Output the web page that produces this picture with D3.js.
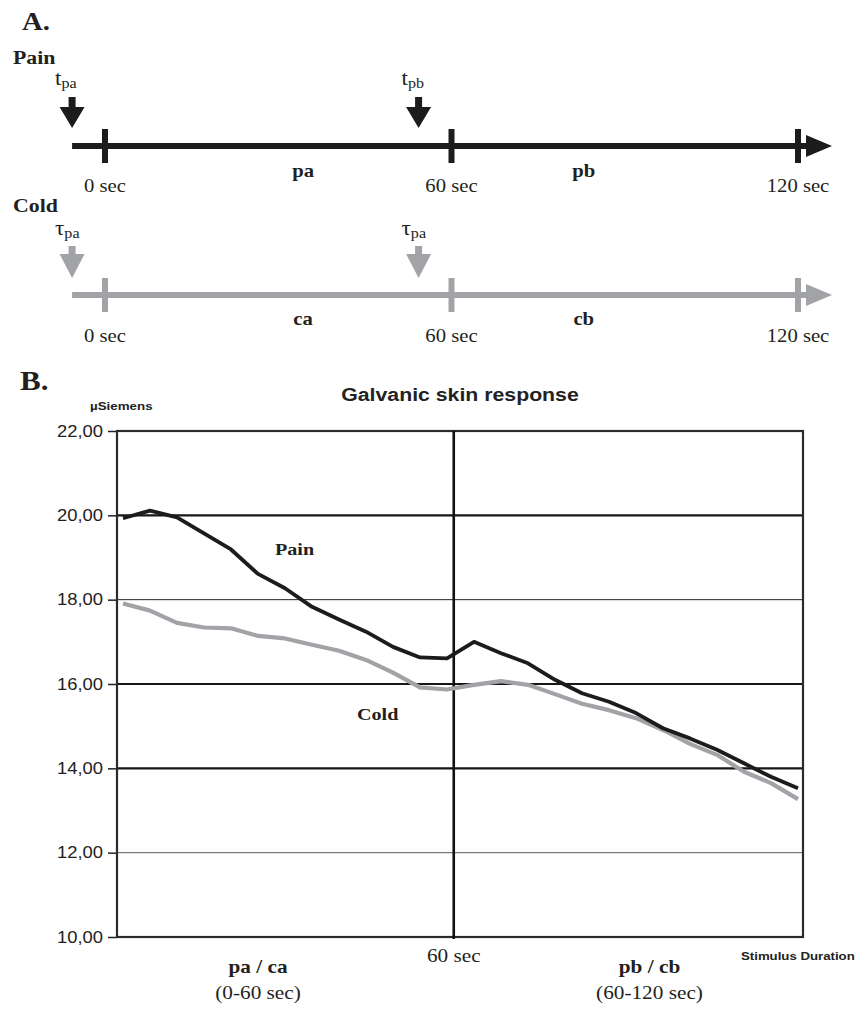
<!DOCTYPE html>
<html>
<head>
<meta charset="utf-8">
<script src="https://cdn.jsdelivr.net/npm/d3@7"></script>
<style>
  html, body { margin: 0; padding: 0; background: #ffffff; }
  svg { display: block; }
</style>
</head>
<body>
<script>
// ---------------- DATA ----------------
// Panel A: timelines
const timelineTicks = [0, 60, 120];
const timelineTickLabels = ["0 sec", "60 sec", "120 sec"];
const timelineRows = ["Pain", "Cold"];
const markerTimes = [-5.7, 54.3];
const painMarkers = [["t", "pa"], ["t", "pb"]];
const coldMarkers = [["τ", "pa"], ["τ", "pa"]];
const phaseLabelTimes = [34.3, 82.9];
const painPhases = ["pa", "pb"];
const coldPhases = ["ca", "cb"];

// Panel B: galvanic skin response (µSiemens), 26 samples over 0-120 sec
const painGSR = [19.93, 20.11, 19.95, 19.57, 19.19, 18.61, 18.27, 17.83, 17.53, 17.24,
                 16.88, 16.63, 16.61, 17.00, 16.73, 16.49, 16.10, 15.78, 15.58, 15.31,
                 14.95, 14.71, 14.44, 14.12, 13.80, 13.53];
const coldGSR = [17.91, 17.74, 17.45, 17.34, 17.32, 17.14, 17.08, 16.93, 16.79, 16.57,
                 16.27, 15.92, 15.87, 15.98, 16.07, 15.98, 15.76, 15.53, 15.38, 15.19,
                 14.91, 14.58, 14.32, 13.92, 13.65, 13.27];
const yTicks = [10, 12, 14, 16, 18, 20, 22];
const dividerSample = 12.25;   // position of the 60 sec boundary among the samples
const phaseAxisLabels = ["pa / ca", "pb / cb"];
const phaseAxisRanges = ["(0-60 sec)", "(60-120 sec)"];
const phaseAxisSamples = [5.0, 19.5];

// ---------------- STYLE ----------------
const W = 857, H = 1009;
const SERIF = "'Liberation Serif', 'Times New Roman', serif";
const SANS = "'Liberation Sans', Arial, sans-serif";
const INK = "#231f20";
const DARK = "#1c1c1c";
const GREY = "#a2a3a6";
const SX = 1.15; // horizontal stretch of the original artwork

const svg = d3.select("body").append("svg").attr("width", W).attr("height", H);

function txt(parent, x, y, s, o = {}) {
  const t = parent.append("text")
    .attr("transform", `translate(${x},${y}) scale(${o.sx ?? SX},1)`)
    .attr("text-anchor", o.anchor || "start")
    .attr("font-family", o.family || SERIF)
    .attr("font-size", o.size || 18)
    .attr("font-weight", o.weight || "normal")
    .attr("fill", o.fill || INK);
  if (s !== null) t.text(s);
  return t;
}

// ---------------- PANEL A ----------------
const gA = svg.append("g");
txt(gA, 22, 30, "A.", { size: 25, weight: "bold" });

const tx = d3.scaleLinear().domain([0, 120]).range([105, 798]);

const rowLayout = [
  { color: DARK, head: 64, mark: 85, shaftTop: 97, shaftBot: 107, tip: 128, line: 146, tickH: 17, phase: 177, sec: 192 },
  { color: GREY, head: 212, mark: 235, shaftTop: 246, shaftBot: 254, tip: 278, line: 295, tickH: 17, phase: 325, sec: 342 }
];

timelineRows.forEach((name, r) => {
  const L = rowLayout[r];
  const markers = r === 0 ? painMarkers : coldMarkers;
  const phases = r === 0 ? painPhases : coldPhases;
  const g = gA.append("g");

  txt(g, 13, L.head, name, { size: 19, weight: "bold" });

  // main line
  const x0 = tx(markerTimes[0]);
  const x1 = tx(120) + 9;
  g.append("line").attr("x1", x0).attr("x2", x1).attr("y1", L.line).attr("y2", L.line)
    .attr("stroke", L.color).attr("stroke-width", 6);
  g.append("path")
    .attr("d", `M${x1 - 1},${L.line - 11} L${x1 + 25},${L.line} L${x1 - 1},${L.line + 11} Z`)
    .attr("fill", L.color);

  // ticks
  g.selectAll("line.tk").data(timelineTicks).join("line").attr("class", "tk")
    .attr("x1", d => tx(d)).attr("x2", d => tx(d))
    .attr("y1", L.line - L.tickH).attr("y2", L.line + L.tickH)
    .attr("stroke", L.color).attr("stroke-width", 6);

  timelineTicks.forEach((d, i) => {
    txt(g, tx(d), L.sec, timelineTickLabels[i], { size: 18, anchor: "middle" });
  });

  // markers (down arrows)
  markerTimes.forEach((t, i) => {
    const cx = tx(t);
    g.append("rect").attr("x", cx - 3.5).attr("y", L.shaftTop).attr("width", 7)
      .attr("height", L.shaftBot - L.shaftTop + 1).attr("fill", L.color);
    g.append("path")
      .attr("d", `M${cx - 12.5},${L.shaftBot} L${cx + 12.5},${L.shaftBot} L${cx},${L.tip} Z`)
      .attr("fill", L.color);
    const m = txt(g, cx - 17, L.mark, null, { size: 20 });
    m.append("tspan").text(markers[i][0]);
    m.append("tspan").attr("font-size", 14).attr("dy", 3).text(markers[i][1]);
  });

  // phase labels
  phases.forEach((p, i) => {
    txt(g, tx(phaseLabelTimes[i]), L.phase, p, { size: 18, weight: "bold", anchor: "middle" });
  });
});

// ---------------- PANEL B ----------------
const gB = svg.append("g");
txt(gB, 20, 390, "B.", { size: 27, weight: "bold" });

const plot = { left: 117, right: 803, top: 431, bottom: 937 };
const x = d3.scaleLinear().domain([0, painGSR.length - 1]).range([123, 798]);
const y = d3.scaleLinear().domain([10, 22]).range([plot.bottom, plot.top]);

txt(gB, (plot.left + plot.right) / 2 + 0, 401, "Galvanic skin response",
  { size: 18.5, weight: "bold", family: SANS, anchor: "middle", fill: "#222" });
txt(gB, 90, 410, "µSiemens", { size: 11.6, weight: "bold", family: SANS, fill: "#222" });

// gridlines
const gridStyle = v => (v === 18 ? { c: "#222", w: 1 } : v === 12 ? { c: "#7a7a7a", w: 1.4 } : { c: "#161616", w: 2.2 });
gB.selectAll("line.grid").data(yTicks.filter(v => v > 10 && v < 22)).join("line")
  .attr("class", "grid")
  .attr("x1", plot.left).attr("x2", plot.right)
  .attr("y1", d => y(d)).attr("y2", d => y(d))
  .attr("stroke", d => gridStyle(d).c).attr("stroke-width", d => gridStyle(d).w);

// y axis
const locale = d3.formatLocale({ decimal: ",", thousands: ".", grouping: [3], currency: ["", ""] });
const fmt = locale.format(".2f");
const yAxis = gB.append("g").attr("transform", `translate(${plot.left},0)`)
  .call(d3.axisLeft(y).tickValues(yTicks).tickSize(9).tickPadding(5).tickFormat(fmt));
yAxis.select(".domain").remove();
yAxis.selectAll(".tick line").attr("stroke", "#222").attr("stroke-width", 1.5);
yAxis.selectAll(".tick text")
  .attr("font-family", SANS).attr("font-size", 16).attr("fill", "#222")
  .attr("x", -14 / SX).attr("transform", `scale(${SX},1)`);

// frame
gB.append("rect").attr("x", plot.left).attr("y", plot.top)
  .attr("width", plot.right - plot.left).attr("height", plot.bottom - plot.top)
  .attr("fill", "none").attr("stroke", "#2b2b2b").attr("stroke-width", 2.2);

// divider at 60 sec
const xd = x(dividerSample);
gB.append("line").attr("x1", xd).attr("x2", xd).attr("y1", plot.top).attr("y2", plot.bottom + 2)
  .attr("stroke", "#111").attr("stroke-width", 2.6);

// series
const line = d3.line().x((d, i) => x(i)).y(d => y(d));
gB.append("path").datum(coldGSR).attr("d", line).attr("fill", "none")
  .attr("stroke", GREY).attr("stroke-width", 4.2).attr("stroke-linejoin", "round");
gB.append("path").datum(painGSR).attr("d", line).attr("fill", "none")
  .attr("stroke", DARK).attr("stroke-width", 3.8).attr("stroke-linejoin", "round");

// series labels
txt(gB, 275, 555, "Pain", { size: 17.5, weight: "bold" });
txt(gB, 357, 720, "Cold", { size: 17.5, weight: "bold" });

// x-axis annotations
txt(gB, xd, 962, "60 sec", { size: 18.5, anchor: "middle" });
phaseAxisLabels.forEach((s, i) => {
  txt(gB, x(phaseAxisSamples[i]), 973, s, { size: 18.5, weight: "bold", anchor: "middle" });
  txt(gB, x(phaseAxisSamples[i]), 999, phaseAxisRanges[i], { size: 18.5, anchor: "middle" });
});
txt(gB, 741, 960, "Stimulus Duration", { size: 11.5, weight: "bold", family: SANS, fill: "#222" });
</script>
</body>
</html>
